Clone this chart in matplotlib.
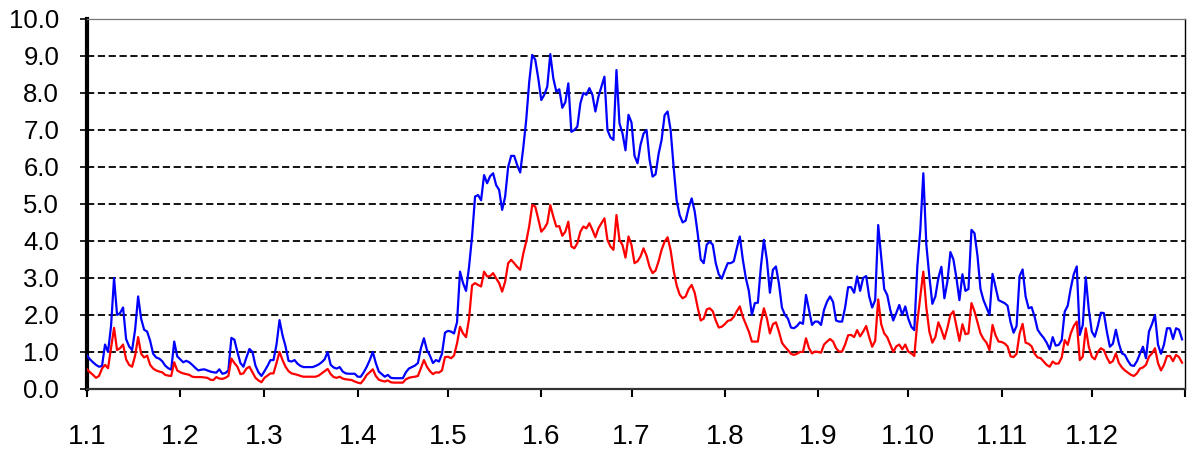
"""
Daily series, two lines (blue / red), one year, month ticks 1.1 .. 1.12
"""

import numpy as np
import matplotlib
matplotlib.use("Agg")
import matplotlib.pyplot as plt

# ─── Data (one value per day) ────────────────────────────────────────────────

MONTH_LABELS = ["1.1", "1.2", "1.3", "1.4", "1.5", "1.6",
                "1.7", "1.8", "1.9", "1.10", "1.11", "1.12"]
MONTH_DAYS = [31, 28, 31, 30, 31, 30, 31, 31, 30, 31, 30, 31]

blue_jan = [0.90, 0.80, 0.72, 0.65, 0.60, 0.62, 1.20, 1.00, 1.70, 3.00, 2.00,
            2.05, 2.20, 1.35, 1.15, 1.05, 1.60, 2.50, 1.90, 1.60, 1.55, 1.30,
            0.95, 0.85, 0.82, 0.75, 0.63, 0.56, 0.52, 1.28, 0.88]
blue_feb = [0.80, 0.72, 0.76, 0.72, 0.65, 0.57, 0.50, 0.52, 0.53, 0.50, 0.47,
            0.45, 0.44, 0.53, 0.41, 0.43, 0.50, 1.38, 1.33, 1.00, 0.70, 0.60,
            0.85, 1.08, 1.00, 0.63, 0.45, 0.35]
blue_mar = [0.48, 0.62, 0.78, 0.78, 1.20, 1.86, 1.45, 1.15, 0.76, 0.74, 0.78,
            0.68, 0.62, 0.59, 0.59, 0.59, 0.59, 0.62, 0.66, 0.72, 0.80, 1.00,
            0.65, 0.58, 0.55, 0.59, 0.47, 0.42, 0.41, 0.41, 0.41]
blue_apr = [0.33, 0.33, 0.45, 0.60, 0.78, 1.00, 0.70, 0.47, 0.40, 0.33, 0.38,
            0.30, 0.29, 0.29, 0.29, 0.29, 0.45, 0.55, 0.59, 0.63, 0.70, 1.10,
            1.37, 1.05, 0.90, 0.70, 0.78, 0.74, 0.95, 1.52]
blue_may = [1.57, 1.55, 1.50, 1.80, 3.17, 2.86, 2.65, 3.30, 4.12, 5.20, 5.24,
            5.10, 5.78, 5.56, 5.75, 5.83, 5.51, 5.38, 4.84, 5.20, 6.00, 6.30,
            6.30, 6.05, 5.85, 6.50, 7.27, 8.30, 9.03, 8.90, 8.40]
blue_jun = [7.81, 7.95, 8.17, 9.05, 8.40, 8.04, 8.10, 7.60, 7.75, 8.26, 6.95,
            7.00, 7.09, 7.72, 8.00, 7.95, 8.13, 7.95, 7.50, 7.90, 8.17, 8.44,
            7.00, 6.80, 6.73, 8.62, 7.18, 6.91, 6.45, 7.41]
blue_jul = [7.20, 6.30, 6.10, 6.60, 6.90, 7.00, 6.20, 5.74, 5.80, 6.35, 6.73,
            7.40, 7.50, 7.00, 6.00, 5.10, 4.70, 4.50, 4.55, 4.90, 5.15, 4.80,
            4.20, 3.50, 3.40, 3.90, 3.98, 3.90, 3.40, 3.10, 2.98]
blue_aug = [3.20, 3.40, 3.40, 3.45, 3.80, 4.12, 3.50, 3.00, 2.65, 2.00, 2.32,
            2.33, 3.30, 4.03, 3.49, 2.60, 3.22, 3.31, 2.85, 2.20, 2.00, 1.90,
            1.66, 1.64, 1.70, 1.80, 1.76, 2.54, 2.14, 1.73, 1.82]
blue_sep = [1.82, 1.73, 2.14, 2.36, 2.50, 2.35, 1.85, 1.82, 1.82, 2.20, 2.75,
            2.75, 2.60, 3.04, 2.65, 3.00, 3.05, 2.50, 2.20, 2.40, 4.43, 3.58,
            2.70, 2.54, 2.14, 1.85, 2.05, 2.27, 2.00, 2.23]
blue_oct = [1.90, 1.68, 1.59, 3.30, 4.30, 5.83, 3.90, 3.04, 2.30, 2.50, 3.00,
            3.30, 2.45, 2.90, 3.70, 3.50, 3.00, 2.40, 3.10, 2.65, 2.70, 4.30,
            4.21, 3.60, 2.70, 2.40, 2.20, 2.00, 3.11, 2.75, 2.40]
blue_nov = [2.36, 2.32, 2.25, 1.80, 1.52, 1.70, 3.05, 3.23, 2.50, 2.18, 2.21,
            1.95, 1.60, 1.48, 1.38, 1.25, 1.07, 1.40, 1.17, 1.19, 1.32, 2.09,
            2.25, 2.72, 3.10, 3.31, 1.46, 1.73, 3.02, 2.14]
blue_dec = [1.55, 1.41, 1.70, 2.06, 2.05, 1.55, 1.14, 1.22, 1.60, 1.23, 0.96,
            0.92, 0.76, 0.64, 0.62, 0.75, 0.95, 1.14, 0.83, 1.55, 1.75, 2.00,
            1.20, 0.95, 1.20, 1.64, 1.64, 1.35, 1.64, 1.60, 1.34]

red_jan = [0.53, 0.45, 0.38, 0.30, 0.35, 0.55, 0.65, 0.56, 1.10, 1.65, 1.05,
           1.10, 1.20, 0.80, 0.65, 0.60, 0.90, 1.40, 0.95, 0.85, 0.90, 0.65,
           0.55, 0.50, 0.47, 0.45, 0.38, 0.36, 0.35, 0.72, 0.50]
red_feb = [0.45, 0.42, 0.40, 0.38, 0.33, 0.32, 0.32, 0.32, 0.31, 0.30, 0.25,
           0.24, 0.32, 0.28, 0.27, 0.30, 0.35, 0.82, 0.70, 0.60, 0.40, 0.42,
           0.55, 0.60, 0.45, 0.30, 0.23, 0.18]
red_mar = [0.30, 0.36, 0.42, 0.42, 0.70, 1.00, 0.78, 0.60, 0.48, 0.42, 0.40,
           0.38, 0.35, 0.33, 0.33, 0.33, 0.33, 0.33, 0.36, 0.42, 0.48, 0.54,
           0.40, 0.32, 0.30, 0.33, 0.28, 0.26, 0.25, 0.24, 0.20]
red_apr = [0.17, 0.15, 0.25, 0.38, 0.45, 0.53, 0.35, 0.25, 0.22, 0.20, 0.23,
           0.18, 0.17, 0.17, 0.17, 0.17, 0.26, 0.30, 0.32, 0.33, 0.35, 0.56,
           0.78, 0.60, 0.48, 0.40, 0.45, 0.44, 0.50, 0.86]
red_may = [0.87, 0.83, 0.90, 1.23, 1.68, 1.50, 1.40, 1.90, 2.80, 2.86, 2.81,
           2.77, 3.17, 3.04, 3.05, 3.13, 2.99, 2.86, 2.63, 2.90, 3.40, 3.49,
           3.40, 3.30, 3.22, 3.65, 3.98, 4.40, 4.97, 4.93, 4.60]
red_jun = [4.25, 4.34, 4.48, 4.97, 4.66, 4.39, 4.40, 4.14, 4.25, 4.52, 3.85,
           3.80, 3.94, 4.25, 4.39, 4.34, 4.48, 4.30, 4.10, 4.34, 4.48, 4.61,
           4.03, 3.85, 3.76, 4.70, 4.03, 3.89, 3.55, 4.12]
red_jul = [3.89, 3.40, 3.45, 3.58, 3.80, 3.60, 3.30, 3.13, 3.20, 3.45, 3.76,
           3.98, 4.10, 3.75, 3.20, 2.80, 2.55, 2.45, 2.50, 2.70, 2.81, 2.60,
           2.20, 1.85, 1.90, 2.15, 2.18, 2.10, 1.85, 1.66, 1.68]
red_aug = [1.75, 1.84, 1.86, 1.95, 2.10, 2.23, 1.95, 1.75, 1.55, 1.28, 1.28,
           1.28, 1.80, 2.18, 1.91, 1.50, 1.75, 1.80, 1.55, 1.25, 1.14, 1.05,
           0.95, 0.92, 0.95, 1.00, 1.00, 1.37, 1.10, 0.96, 1.01]
red_sep = [1.00, 0.98, 1.20, 1.28, 1.35, 1.28, 1.10, 1.01, 1.01, 1.20, 1.45,
           1.46, 1.40, 1.59, 1.42, 1.55, 1.70, 1.40, 1.14, 1.30, 2.42, 1.75,
           1.50, 1.40, 1.20, 1.00, 1.15, 1.20, 1.07, 1.20]
red_oct = [1.01, 0.96, 0.89, 1.80, 2.50, 3.17, 2.20, 1.55, 1.25, 1.40, 1.80,
           1.60, 1.35, 1.65, 2.00, 2.10, 1.70, 1.30, 1.75, 1.48, 1.50, 2.32,
           2.10, 1.80, 1.50, 1.35, 1.25, 1.05, 1.73, 1.45, 1.28]
red_nov = [1.27, 1.23, 1.15, 0.88, 0.86, 0.95, 1.50, 1.76, 1.25, 1.22, 1.15,
           0.95, 0.85, 0.83, 0.74, 0.65, 0.60, 0.74, 0.68, 0.69, 0.85, 1.32,
           1.19, 1.50, 1.70, 1.82, 0.78, 0.87, 1.64, 1.14]
red_dec = [0.87, 0.80, 1.00, 1.10, 1.05, 0.85, 0.70, 0.75, 0.96, 0.70, 0.58,
           0.50, 0.44, 0.38, 0.35, 0.42, 0.55, 0.58, 0.65, 0.87, 0.96, 1.10,
           0.70, 0.50, 0.65, 0.89, 0.89, 0.75, 0.92, 0.86, 0.71]

blue_months = [blue_jan, blue_feb, blue_mar, blue_apr, blue_may, blue_jun,
               blue_jul, blue_aug, blue_sep, blue_oct, blue_nov, blue_dec]
red_months = [red_jan, red_feb, red_mar, red_apr, red_may, red_jun,
              red_jul, red_aug, red_sep, red_oct, red_nov, red_dec]

for name, months in (("blue", blue_months), ("red", red_months)):
    lens = [len(m) for m in months]
    if lens != MONTH_DAYS:
        raise SystemExit(f"{name} month lengths {lens} != {MONTH_DAYS}")

blue = np.concatenate(blue_months)
red = np.concatenate(red_months)
days = np.arange(len(blue))
month_starts = np.concatenate([[0], np.cumsum(MONTH_DAYS)[:-1]])
n_days = int(np.sum(MONTH_DAYS))

# ─── Plot ────────────────────────────────────────────────────────────────────

plt.rcParams["font.family"] = ["Liberation Sans", "DejaVu Sans"]

fig = plt.figure(figsize=(11.98, 4.63), dpi=100)
ax = fig.add_axes([0.0726, 0.160, 0.9166, 0.799])

ax.plot(days, blue, color="#0000ff", lw=1.6, zorder=3)
ax.plot(days, red, color="#ff0000", lw=1.6, zorder=4)

ax.set_xlim(0, n_days)
ax.set_ylim(0, 10)

ax.set_yticks(np.arange(0, 11, 1))
ax.set_yticklabels([f"{v:.1f}" for v in range(11)], fontsize=18.5)
ax.set_xticks(list(month_starts) + [n_days])
ax.set_xticklabels(MONTH_LABELS + [""], fontsize=20)

ax.tick_params(axis="y", direction="out", length=5, width=1.2, pad=15)
ax.tick_params(axis="x", direction="out", length=6, width=1.5, pad=19)

for v in range(1, 10):
    ax.axhline(v, color="black", lw=1.3, dashes=(4.0, 2.0), zorder=2)

ax.spines["left"].set_linewidth(3.0)
ax.spines["bottom"].set_linewidth(1.6)
ax.spines["bottom"].set_color("#333333")
ax.spines["top"].set_linewidth(0.9)
ax.spines["top"].set_color("#777777")
ax.spines["right"].set_linewidth(1.0)

fig.savefig("out.png", dpi=100)
